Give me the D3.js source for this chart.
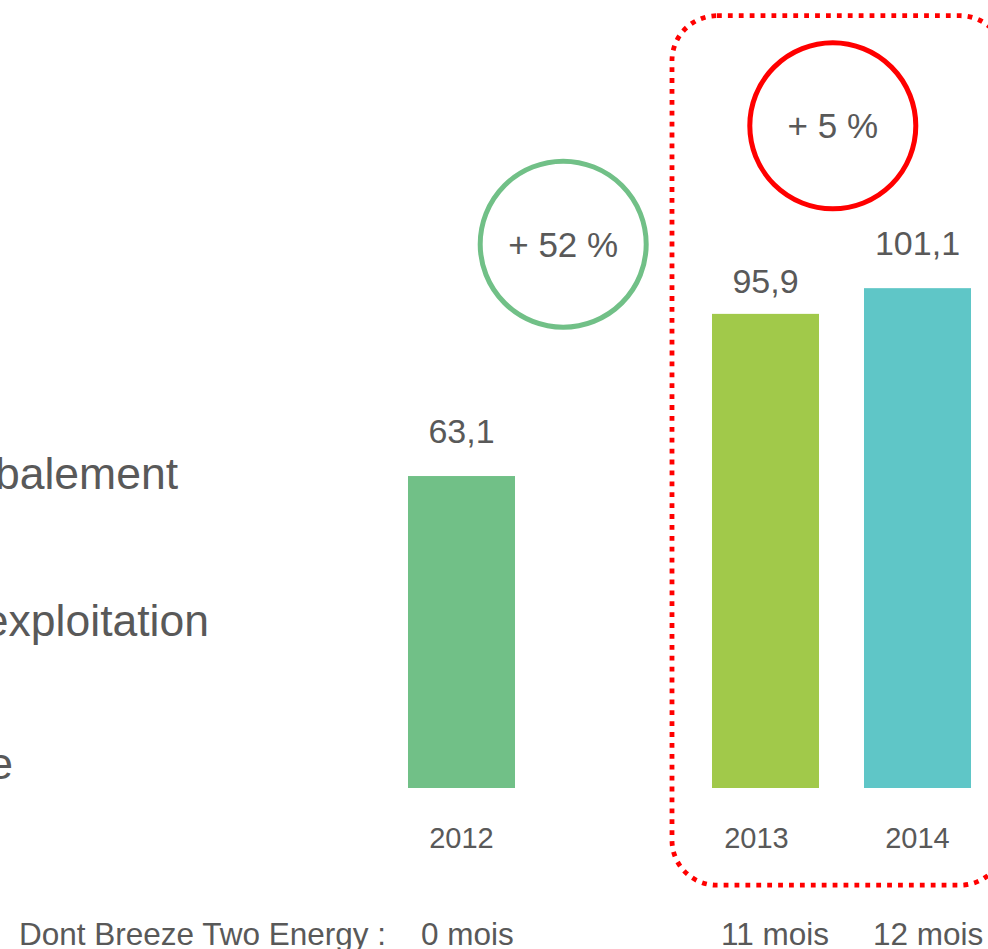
<!DOCTYPE html>
<html>
<head>
<meta charset="utf-8">
<script src="https://cdn.jsdelivr.net/npm/d3@7"></script>
<style>
  html, body { margin: 0; padding: 0; background: #fff; overflow: hidden; }
  svg { display: block; }
  text { font-family: "Liberation Sans", Arial, sans-serif; fill: #595959; }
</style>
</head>
<body>
<svg id="chart" width="988" height="949"></svg>
<script>
// ---- data ----
const years = ["2012", "2013", "2014"];
const values = [63.1, 95.9, 101.1];
const valueLabels = ["63,1", "95,9", "101,1"];
const monthLabels = ["0 mois", "11 mois", "12 mois"];
const barColors = ["#71c087", "#a1c94a", "#5fc6c7"];
const slots = ["2012", "", "2013", "2014"];
const growthLabels = ["+ 52 %", "+ 5 %"];
const sideLabels = ["Globalement", "Résultat d'exploitation", "Marge nette"];
const footLabel = "Dont Breeze Two Energy :";

const svg = d3.select("#chart");

// scales
const x = d3.scaleBand().domain(slots).range([385.5, 993.5]).paddingInner(0.296).paddingOuter(0.148);
const y = d3.scaleLinear().domain([0, 100]).range([788, 293.6]);
const bw = x.bandwidth();

// left partial text (cut by the frame, as in the original slide)
const sideX = [178, 209, 13];
const sideY = [489, 636, 779];
svg.selectAll("text.side").data(sideLabels).join("text")
  .attr("class", "side")
  .attr("x", (d, i) => sideX[i]).attr("y", (d, i) => sideY[i])
  .attr("text-anchor", "end")
  .style("font-size", "44.5px")
  .text(d => d);

// dotted red rounded rectangle
svg.append("rect")
  .attr("x", 672).attr("y", 15.7)
  .attr("width", 333).attr("height", 869.5)
  .attr("rx", 45).attr("ry", 45)
  .attr("fill", "none")
  .attr("stroke", "#ff0000")
  .attr("stroke-width", 4.8)
  .attr("stroke-dasharray", "4.8 6.1");

// bars
svg.selectAll("rect.bar").data(values).join("rect")
  .attr("class", "bar")
  .attr("x", (d, i) => x(years[i]))
  .attr("y", d => y(d))
  .attr("width", bw)
  .attr("height", d => y(0) - y(d))
  .attr("fill", (d, i) => barColors[i]);

// value labels
const labelGap = [33, 21, 33];
svg.selectAll("text.val").data(values).join("text")
  .attr("class", "val")
  .attr("x", (d, i) => x(years[i]) + bw / 2)
  .attr("y", (d, i) => y(d) - labelGap[i])
  .attr("text-anchor", "middle")
  .style("font-size", "34px")
  .text((d, i) => valueLabels[i]);

// year labels
svg.selectAll("text.year").data(years).join("text")
  .attr("class", "year")
  .attr("x", (d, i) => x(d) + bw / 2 + (i === 1 ? -9 : 0))
  .attr("y", 848)
  .attr("text-anchor", "middle")
  .style("font-size", "29px")
  .text(d => d);

// month labels
svg.selectAll("text.mois").data(monthLabels).join("text")
  .attr("class", "mois")
  .attr("x", (d, i) => x(years[i]) + (i === 0 ? 13 : 9))
  .attr("y", 945)
  .attr("text-anchor", "start")
  .style("font-size", "31.5px")
  .text(d => d);

svg.append("text")
  .attr("x", 19).attr("y", 945)
  .style("font-size", "31.5px")
  .text(footLabel);

// growth circles
const circles = [
  { cx: 563.2, cy: 244.2, color: "#71c087", label: growthLabels[0] },
  { cx: 832.8, cy: 125.8, color: "#ff0000", label: growthLabels[1] }
];
const g = svg.selectAll("g.growth").data(circles).join("g").attr("class", "growth");
g.append("circle")
  .attr("cx", d => d.cx).attr("cy", d => d.cy).attr("r", 83)
  .attr("fill", "#fff")
  .attr("stroke", d => d.color)
  .attr("stroke-width", 5);
g.append("text")
  .attr("x", d => d.cx).attr("y", d => d.cy)
  .attr("dy", "0.36em")
  .attr("text-anchor", "middle")
  .style("font-size", "35px")
  .text(d => d.label);
</script>
</body>
</html>
